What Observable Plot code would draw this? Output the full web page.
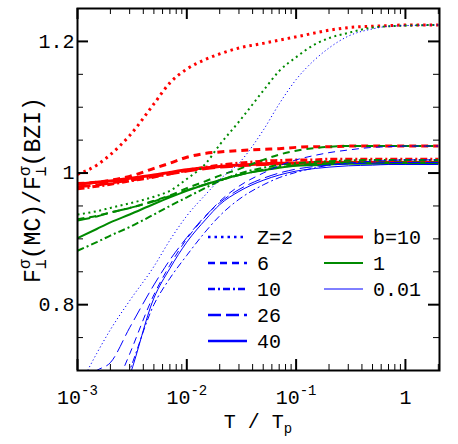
<!DOCTYPE html>
<html><head><meta charset="utf-8">
<script src="https://cdn.jsdelivr.net/npm/d3@7"></script>
<script src="https://cdn.jsdelivr.net/npm/@observablehq/plot@0.6"></script>
<style>body{margin:0;background:#fff}#chart{width:458px;height:444px}</style>
</head><body><div id="chart"></div>
<script>
// ---- data ----
const T = [0.001, 0.0015, 0.002, 0.003, 0.005, 0.007, 0.01, 0.015, 0.02, 0.03, 0.05, 0.07, 0.1, 0.15, 0.2, 0.3, 0.5, 0.7, 1, 2];
const zValues = [2, 6, 10, 26, 40];
const bValues = [10, 1, 0.01];

// b = 10 (red)
const F_b10_Z2  = [0.998, 1.012, 1.028, 1.057, 1.105, 1.137, 1.158, 1.173, 1.181, 1.190, 1.197, 1.202, 1.207, 1.213, 1.217, 1.221, 1.223, 1.224, 1.225, 1.225];
const F_b10_Z6  = [0.984, 0.986, 0.989, 0.995, 1.007, 1.015, 1.024, 1.030, 1.032, 1.034, 1.036, 1.037, 1.039, 1.040, 1.040, 1.041, 1.041, 1.041, 1.041, 1.041];
const F_b10_Z10 = [0.976, 0.980, 0.983, 0.988, 0.994, 0.999, 1.004, 1.009, 1.012, 1.015, 1.018, 1.019, 1.020, 1.020, 1.021, 1.021, 1.021, 1.021, 1.021, 1.021];
const F_b10_Z26 = [0.979, 0.982, 0.985, 0.989, 0.995, 0.999, 1.003, 1.007, 1.009, 1.011, 1.013, 1.014, 1.015, 1.015, 1.016, 1.016, 1.016, 1.016, 1.016, 1.016];
const F_b10_Z40 = [0.983, 0.986, 0.988, 0.992, 0.997, 1.001, 1.005, 1.008, 1.010, 1.012, 1.014, 1.015, 1.015, 1.016, 1.016, 1.016, 1.016, 1.016, 1.016, 1.016];
// b = 1 (green)
const F_b1_Z2  = [0.937, 0.942, 0.947, 0.954, 0.964, 0.973, 0.991, 1.015, 1.043, 1.078, 1.125, 1.155, 1.176, 1.196, 1.205, 1.213, 1.221, 1.223, 1.224, 1.225];
const F_b1_Z6  = [0.930, 0.935, 0.940, 0.947, 0.958, 0.966, 0.977, 0.988, 0.996, 1.006, 1.020, 1.028, 1.034, 1.038, 1.040, 1.041, 1.041, 1.041, 1.041, 1.041];
const F_b1_Z10 = [0.882, 0.895, 0.905, 0.918, 0.937, 0.950, 0.963, 0.978, 0.988, 0.999, 1.008, 1.012, 1.015, 1.017, 1.018, 1.019, 1.020, 1.020, 1.020, 1.020];
const F_b1_Z26 = [0.928, 0.934, 0.940, 0.947, 0.957, 0.965, 0.974, 0.983, 0.989, 0.997, 1.005, 1.009, 1.012, 1.014, 1.015, 1.016, 1.016, 1.016, 1.016, 1.016];
const F_b1_Z40 = [0.901, 0.915, 0.925, 0.937, 0.953, 0.963, 0.973, 0.983, 0.989, 0.997, 1.004, 1.008, 1.011, 1.012, 1.013, 1.014, 1.014, 1.014, 1.014, 1.014];
// b = 0.01 (blue)
const F_b001_Z2  = [0.670, 0.726, 0.762, 0.806, 0.858, 0.898, 0.935, 0.968, 0.990, 1.015, 1.065, 1.105, 1.142, 1.173, 1.190, 1.208, 1.219, 1.223, 1.224, 1.225];
const F_b001_Z6  = [0.520, 0.600, 0.655, 0.725, 0.815, 0.860, 0.900, 0.935, 0.957, 0.980, 1.000, 1.011, 1.020, 1.027, 1.031, 1.035, 1.039, 1.040, 1.041, 1.041];
const F_b001_Z10 = [0.500, 0.570, 0.625, 0.700, 0.800, 0.840, 0.875, 0.912, 0.935, 0.960, 0.982, 0.993, 1.001, 1.008, 1.012, 1.015, 1.018, 1.019, 1.020, 1.020];
const F_b001_Z26 = [0.675, 0.700, 0.712, 0.765, 0.830, 0.868, 0.902, 0.936, 0.955, 0.975, 0.992, 1.000, 1.006, 1.010, 1.012, 1.014, 1.015, 1.016, 1.016, 1.016];
const F_b001_Z40 = [0.500, 0.570, 0.620, 0.692, 0.810, 0.855, 0.895, 0.930, 0.952, 0.972, 0.989, 0.997, 1.003, 1.007, 1.009, 1.011, 1.012, 1.013, 1.013, 1.013];

const xMajorTicks = [0.001, 0.01, 0.1, 1];
const xTickLabels = ["10^-3", "10^-2", "10^-1", "1"];
const xMinorTicks = [0.002,0.003,0.004,0.005,0.006,0.007,0.008,0.009,0.02,0.03,0.04,0.05,0.06,0.07,0.08,0.09,0.2,0.3,0.4,0.5,0.6,0.7,0.8,0.9,2];
const yMajorTicks = [0.8, 1, 1.2];
const yTickLabels = ["0.8", "1", "1.2"];
const yMinorTicks = [0.75, 0.85, 0.9, 0.95, 1.05, 1.1, 1.15];
const zLegendLabels = ["Z=2", "6", "10", "26", "40"];
const bLegendLabels = ["b=10", "1", "0.01"];

// ---- styles ----
const bColor = {10: "#ff0000", 1: "#008a00", 0.01: "#0000ff"};
const bWidth = {10: 3, 1: 2, 0.01: 1};
function dashFor(Z, b) {
  if (Z === 2) return b === 10 ? "2.5,4" : b === 1 ? "2,3.5" : "1.2,2.5";
  if (Z === 6) return "7,5";
  if (Z === 10) return "7,3,2,3";
  if (Z === 26) return "13,5";
  return null;
}

const seriesTable = [
  [10, [F_b10_Z2, F_b10_Z6, F_b10_Z10, F_b10_Z26, F_b10_Z40]],
  [1, [F_b1_Z2, F_b1_Z6, F_b1_Z10, F_b1_Z26, F_b1_Z40]],
  [0.01, [F_b001_Z2, F_b001_Z6, F_b001_Z10, F_b001_Z26, F_b001_Z40]]
];

const W = 458, H = 444, mL = 77, mR = 19, mT = 8, mB = 74;
const pw = W - mL - mR, ph = H - mT - mB;
const font = "'Liberation Mono', 'DejaVu Sans Mono', monospace";

const lineMarks = [];
for (const [b, arrs] of seriesTable) {
  arrs.forEach((arr, k) => {
    const Z = zValues[k];
    const data = T.map((t, i) => ({T: t, F: arr[i]}));
    lineMarks.push(Plot.line(data, {
      x: "T", y: "F", stroke: bColor[b], strokeWidth: bWidth[b],
      strokeDasharray: dashFor(Z, b), strokeLinecap: "butt", strokeLinejoin: "miter",
      curve: "monotone-x", clip: true
    }));
  });
}

const chart = Plot.plot({
  width: W, height: H,
  marginLeft: mL, marginRight: mR, marginTop: mT, marginBottom: mB,
  style: {fontFamily: font, fontSize: "20px", background: "#fff", color: "#000"},
  x: {type: "log", domain: [0.001, 2.05]},
  y: {domain: [0.7, 1.25]},
  marks: [
    ...lineMarks,
    Plot.tickX(xMajorTicks, {x: d => d, insetBottom: ph - 11, strokeWidth: 2}),
    Plot.tickX(xMajorTicks, {x: d => d, insetTop: ph - 11, strokeWidth: 2}),
    Plot.tickX(xMinorTicks, {x: d => d, insetBottom: ph - 6, strokeWidth: 1}),
    Plot.tickX(xMinorTicks, {x: d => d, insetTop: ph - 6, strokeWidth: 1}),
    Plot.tickY(yMajorTicks, {y: d => d, insetRight: pw - 11, strokeWidth: 2}),
    Plot.tickY(yMajorTicks, {y: d => d, insetLeft: pw - 11, strokeWidth: 2}),
    Plot.tickY(yMinorTicks, {y: d => d, insetRight: pw - 6, strokeWidth: 1}),
    Plot.tickY(yMinorTicks, {y: d => d, insetLeft: pw - 6, strokeWidth: 1}),
    Plot.frame({strokeWidth: 2}),
    Plot.axisX(xMajorTicks, {tickSize: 0, tickPadding: 19, label: null,
      tickFormat: d => xTickLabels[xMajorTicks.indexOf(d)]}),
    Plot.axisY(yMajorTicks, {tickSize: 0, tickPadding: 3, label: null,
      tickFormat: d => yTickLabels[yMajorTicks.indexOf(d)]})
  ]
});
document.getElementById("chart").appendChild(chart);

const svg = d3.select(chart);
svg.selectAll("text").each(function() {
  const s = this.textContent;
  if (s.includes("^")) {
    const [base, exp] = s.split("^");
    const t = d3.select(this);
    t.text("");
    t.append("tspan").text(base);
    t.append("tspan").attr("dy", "-9").attr("font-size", 14).text(exp);
  }
});

// x axis title
const xt = svg.append("text").attr("x", mL + pw / 2).attr("y", 428)
  .attr("text-anchor", "middle").attr("font-family", font).attr("font-size", 20).attr("fill", "#000");
xt.append("tspan").text("T / T");
xt.append("tspan").attr("dy", 5).attr("font-size", 14).text("p");

// y axis title, sized to span the same length as in the reference
const yTop = 97, yBottom = 283;
const yt = svg.append("text").attr("text-anchor", "middle").attr("font-family", font).attr("fill", "#000");
function buildYTitle(s) {
  yt.selectAll("*").remove();
  yt.attr("font-size", s);
  const ss = s * 0.7;
  const perp = () => {
    yt.append("tspan").attr("dy", s * 0.25).attr("font-size", ss).text("⊥");
    const w = ss * 0.6;
    yt.append("tspan").attr("dx", -w).attr("dy", -s * 0.7).attr("font-size", ss).text("σ");
    return s * 0.45;
  };
  yt.append("tspan").text("F");
  let back = perp();
  yt.append("tspan").attr("dy", back).text("(MC)/F");
  back = perp();
  yt.append("tspan").attr("dy", back).text("(BZI)");
}
buildYTitle(20);
let len = yt.node().getComputedTextLength ? yt.node().getBBox().width : 186;
if (len > 0) buildYTitle(20 * (yBottom - yTop) / len);
yt.attr("transform", `translate(40,${(yTop + yBottom) / 2}) rotate(-90)`);

// legend
const lg = svg.append("g").attr("font-family", font).attr("font-size", 20).attr("text-anchor", "start");
const rowY0 = 237, rowStep = 26;
zLegendLabels.forEach((lab, k) => {
  const y = rowY0 + k * rowStep;
  lg.append("line").attr("x1", 208).attr("x2", 247).attr("y1", y).attr("y2", y)
    .attr("stroke", "#0000ff").attr("stroke-width", 2.5)
    .attr("stroke-dasharray", dashFor(zValues[k], 10));
  lg.append("text").attr("x", 257).attr("y", y + 7).text(lab);
});
bLegendLabels.forEach((lab, k) => {
  const y = rowY0 + k * rowStep;
  const b = bValues[k];
  lg.append("line").attr("x1", 324).attr("x2", 363).attr("y1", y).attr("y2", y)
    .attr("stroke", bColor[b]).attr("stroke-width", bWidth[b]);
  lg.append("text").attr("x", 373).attr("y", y + 7).text(lab);
});
</script>
</body></html>
